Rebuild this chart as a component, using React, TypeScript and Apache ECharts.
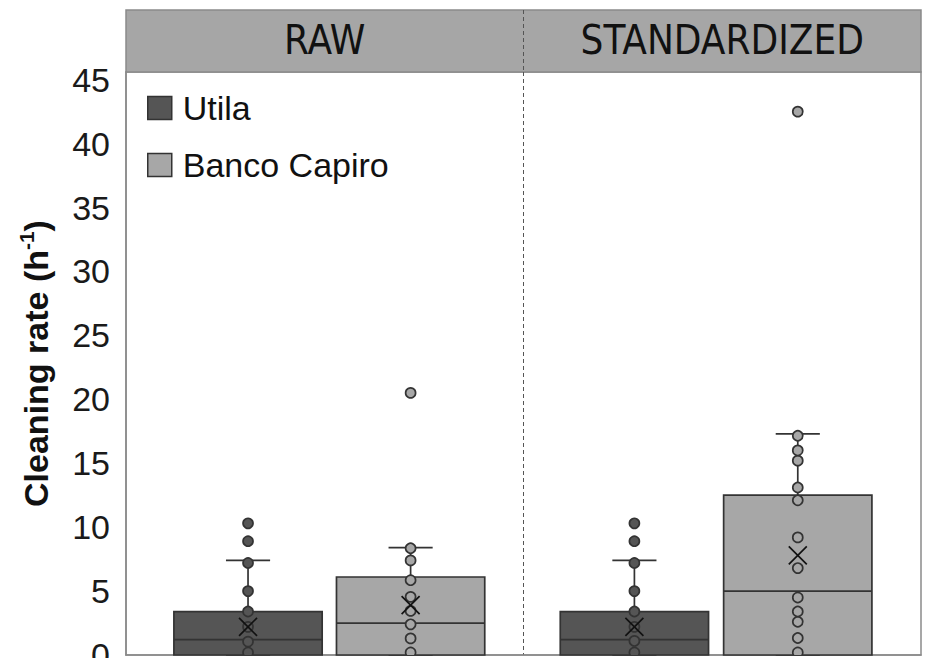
import React, { useEffect, useRef } from 'react';
import * as echarts from 'echarts';

// ---------- data ----------
const categories = ['RAW', 'STANDARDIZED'];
const groupNames = ['Utila', 'Banco Capiro'];
const yTicks = [0, 5, 10, 15, 20, 25, 30, 35, 40, 45];

// box stats per category: [lower whisker, Q1, median, Q3, upper whisker]
const utilaBox = [
  [0, 0, 1.2, 3.4, 7.4],
  [0, 0, 1.2, 3.4, 7.4],
];
const bancoBox = [
  [0, 0, 2.5, 6.1, 8.4],
  [0, 0, 5.0, 12.5, 17.3],
];
const utilaMean = [2.2, 2.2];
const bancoMean = [3.9, 7.8];

const utilaPointsRaw = [0.2, 1.05, 2.2, 3.4, 5.0, 7.2];
const utilaPointsStd = [0.2, 1.1, 2.2, 3.4, 5.0, 7.2];
const utilaOutliersRaw = [8.9, 10.3];
const utilaOutliersStd = [8.9, 10.3];

const bancoPointsRaw = [0.2, 1.3, 2.4, 3.45, 4.55, 5.85, 7.4, 8.35];
const bancoPointsStd = [0.2, 1.33, 2.6, 3.4, 4.5, 6.8, 9.2, 12.1, 13.1, 15.2, 16.0, 17.15];
const bancoOutliersRaw = [20.5];
const bancoOutliersStd = [42.5];

// ---------- styling / layout ----------
const COLORS: Record<string, string> = { Utila: '#555555', 'Banco Capiro': '#a7a7a7' };
const EDGE = '#333333';
// horizontal offset of each group's box centre inside a category band (fraction of band)
const OFFSETS: Record<string, number[]> = {
  Utila: [-0.193, -0.221],
  'Banco Capiro': [0.216, 0.19],
};
const BOX_W = 0.373;
const CAP_W = 0.111;

function boxRender(name: string) {
  return (params: any, api: any) => {
    const cat = api.value(0);
    const band = api.size([1, 0])[0];
    const cx = api.coord([cat, 0])[0] + OFFSETS[name][cat] * band;
    const y = (v: number) => api.coord([cat, v])[1];
    const yMin = y(api.value(1));
    const yQ1 = y(api.value(2));
    const yMed = y(api.value(3));
    const yQ3 = y(api.value(4));
    const yMax = y(api.value(5));
    const w = BOX_W * band;
    const cw = CAP_W * band;
    const ls = { stroke: EDGE, lineWidth: 1.7 };
    return {
      type: 'group',
      children: [
        { type: 'line', shape: { x1: cx, y1: yQ3, x2: cx, y2: yMax }, style: ls },
        { type: 'line', shape: { x1: cx - cw / 2, y1: yMax, x2: cx + cw / 2, y2: yMax }, style: ls },
        { type: 'line', shape: { x1: cx, y1: yQ1, x2: cx, y2: yMin }, style: ls },
        { type: 'line', shape: { x1: cx - cw / 2, y1: yMin, x2: cx + cw / 2, y2: yMin }, style: ls },
        {
          type: 'rect',
          shape: { x: cx - w / 2, y: yQ3, width: w, height: yQ1 - yQ3 },
          style: { fill: COLORS[name], stroke: EDGE, lineWidth: 1.7 },
        },
        { type: 'line', shape: { x1: cx - w / 2, y1: yMed, x2: cx + w / 2, y2: yMed }, style: ls },
      ],
    };
  };
}

function pointRender(name: string) {
  return (params: any, api: any) => {
    const cat = api.value(0);
    const band = api.size([1, 0])[0];
    const p = api.coord([cat, api.value(1)]);
    const cx = p[0] + OFFSETS[name][cat] * band;
    return {
      type: 'circle',
      shape: { cx, cy: p[1], r: 5 },
      style: { fill: COLORS[name], stroke: EDGE, lineWidth: 1.7 },
    };
  };
}

function meanRender(name: string) {
  return (params: any, api: any) => {
    const cat = api.value(0);
    const band = api.size([1, 0])[0];
    const p = api.coord([cat, api.value(1)]);
    const cx = p[0] + OFFSETS[name][cat] * band;
    const cy = p[1];
    const s = 9;
    const ls = { stroke: '#111111', lineWidth: 1.7 };
    return {
      type: 'group',
      children: [
        { type: 'line', shape: { x1: cx - s, y1: cy - s, x2: cx + s, y2: cy + s }, style: ls },
        { type: 'line', shape: { x1: cx - s, y1: cy + s, x2: cx + s, y2: cy - s }, style: ls },
      ],
    };
  };
}

const boxData = (box: number[][]) => box.map((b, i) => [i, ...b]);
const pointData = (lists: number[][]) => {
  const out: number[][] = [];
  lists.forEach((l, i) => l.forEach((v) => out.push([i, v])));
  return out;
};

export default function App() {
  const ref = useRef<HTMLDivElement>(null);
  useEffect(() => {
    if (!ref.current) return;
    const chart = echarts.init(ref.current, undefined, { renderer: 'svg' });
    const sans = "'Liberation Sans', Arial, sans-serif";
    const narrow = "'Liberation Sans Narrow', 'Arial Narrow', 'DejaVu Sans Condensed', 'Liberation Sans', sans-serif";
    const dashed = { show: true, showMinLine: false, showMaxLine: false, lineStyle: { type: [4, 3], color: '#555555', width: 1 } };

    const option: any = {
      animation: false,
      backgroundColor: '#ffffff',
      grid: [
        { left: 126, right: 9, top: 72, bottom: 3, show: true, borderColor: '#8a8a8a', borderWidth: 1.5, backgroundColor: '#ffffff', outerBoundsMode: 'none', containLabel: false },
        { left: 126, right: 9, top: 10, height: 62, show: true, borderColor: '#8a8a8a', borderWidth: 1.5, backgroundColor: '#a6a6a6', outerBoundsMode: 'none', containLabel: false },
      ],
      xAxis: [
        {
          type: 'category', gridIndex: 0, data: categories, boundaryGap: true,
          axisLine: { show: true, lineStyle: { color: '#8a8a8a', width: 1.5 } },
          axisTick: { show: false }, axisLabel: { show: false }, splitLine: dashed,
        },
        {
          type: 'category', gridIndex: 1, data: categories, boundaryGap: true, position: 'bottom',
          axisLine: { show: false }, axisTick: { show: false },
          axisLabel: { show: true, inside: true, margin: 12, fontSize: 40, fontFamily: narrow, color: '#111111' },
          splitLine: dashed,
        },
      ],
      yAxis: [
        {
          type: 'value', gridIndex: 0, min: 0, max: 45.6, interval: 5,
          name: '{a|Cleaning rate (h}{b|-1}{a|)}',
          nameLocation: 'middle', nameGap: 70, nameRotate: 90,
          nameTextStyle: {
            rich: {
              a: { fontSize: 34, fontWeight: 'bold', fontFamily: sans, color: '#111111', lineHeight: 40 },
              b: { fontSize: 21, fontWeight: 'bold', fontFamily: sans, color: '#111111', lineHeight: 22, verticalAlign: 'top' },
            },
          },
          axisLine: { show: true, lineStyle: { color: '#8a8a8a', width: 1.5 } },
          axisTick: { show: false },
          splitLine: { show: false },
          axisLabel: {
            fontSize: 34, fontFamily: sans, color: '#1a1a1a', margin: 16,
            formatter: (v: number) => (yTicks.indexOf(v) >= 0 ? String(v) : ''),
          },
        },
        { type: 'value', gridIndex: 1, show: false },
      ],
      legend: {
        data: groupNames.map((n) => ({ name: n, icon: 'rect', itemStyle: { color: COLORS[n], borderColor: EDGE, borderWidth: 1.5 } })),
        orient: 'vertical', left: 147, top: 91, padding: 0, itemWidth: 24, itemHeight: 23, itemGap: 23,
        textStyle: { fontSize: 34, fontFamily: sans, color: '#111111', lineHeight: 34, padding: [0, 0, 0, 6] },
        selectedMode: false,
      },
      series: [
        { type: 'custom', name: 'Utila', renderItem: boxRender('Utila'), data: boxData(utilaBox), encode: { x: 0, y: [1, 2, 3, 4, 5] }, itemStyle: { color: COLORS.Utila } },
        { type: 'custom', name: 'Banco Capiro', renderItem: boxRender('Banco Capiro'), data: boxData(bancoBox), encode: { x: 0, y: [1, 2, 3, 4, 5] }, itemStyle: { color: COLORS['Banco Capiro'] } },
        { type: 'custom', name: 'Utila points', renderItem: pointRender('Utila'), clip: true, data: pointData([[...utilaPointsRaw, ...utilaOutliersRaw], [...utilaPointsStd, ...utilaOutliersStd]]), encode: { x: 0, y: 1 } },
        { type: 'custom', name: 'Banco Capiro points', renderItem: pointRender('Banco Capiro'), clip: true, data: pointData([[...bancoPointsRaw, ...bancoOutliersRaw], [...bancoPointsStd, ...bancoOutliersStd]]), encode: { x: 0, y: 1 } },
        { type: 'custom', name: 'Utila mean', renderItem: meanRender('Utila'), data: utilaMean.map((m, i) => [i, m]), encode: { x: 0, y: 1 } },
        { type: 'custom', name: 'Banco Capiro mean', renderItem: meanRender('Banco Capiro'), data: bancoMean.map((m, i) => [i, m]), encode: { x: 0, y: 1 } },
      ],
    };
    chart.setOption(option);
    return () => chart.dispose();
  }, []);
  return <div ref={ref} style={{ position: 'fixed', left: 0, top: 0, width: 930, height: 658, background: '#fff' }} />;
}
